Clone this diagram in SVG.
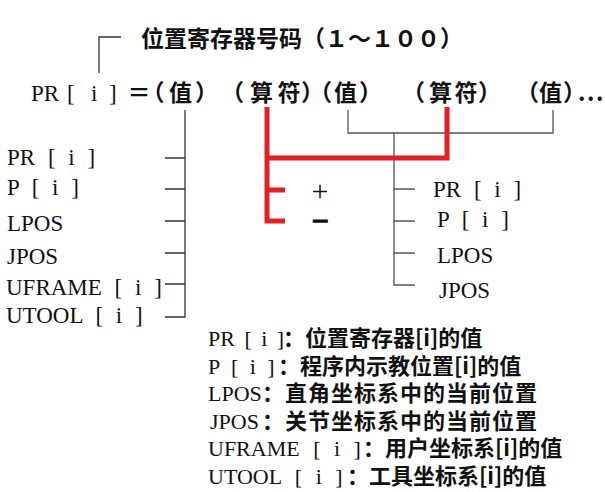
<svg xmlns="http://www.w3.org/2000/svg" width="605" height="492" viewBox="0 0 605 492">
<style>
text{fill:#111}
.l{font-family:"Liberation Serif","Noto Sans CJK SC",serif;font-size:23px;word-spacing:7px}
.m{font-family:"Liberation Serif","Noto Sans CJK SC",serif;font-size:23px}
.c{font-family:"Noto Sans CJK SC",sans-serif;font-weight:bold;font-size:23px}
.c2{font-family:"Noto Sans CJK SC",sans-serif;font-weight:bold;font-size:22px}
.t{font-family:"Noto Sans CJK SC",sans-serif;font-weight:bold;font-size:23px}
.lb{font-family:"Liberation Serif","Noto Sans CJK SC",serif;font-size:22px;word-spacing:8px}
.op{font-family:"Liberation Serif",serif;font-size:30px;text-anchor:middle}
.blk{fill:none;stroke:#333;stroke-width:1.3}
.gry{fill:none;stroke:#555;stroke-width:1.3}
.red{fill:none;stroke:#e31e24;stroke-width:5}
</style>
<g id="connectors">
<path class="blk" d="M99 73 V37 H121"/>
<path class="blk" d="M185 110 V317 H165 M165 158 H185 M165 189 H185 M165 221 H185 M165 253 H185 M165 284 H185"/>
<path class="gry" d="M348 110 V133 H553 V110 M394 133 V285 H415 M394 189 H415 M394 221 H415 M394 253 H415"/>
<path class="red" d="M267 107 V221 H285 M267 190 H285 M267 158 H447 V107"/>
</g>
<g id="title"><text class="t" x="141" y="47">位置寄存器号码（１～１００）</text></g>
<g id="formula">
<text class="m" y="101" x="31 43.8 56 67 75 91 97 109">PR [ i ]</text>
<text class="c" y="101" x="127.5 141.5 169 195 208 221 250 277.5 301 309 334 359 380 402 429 454.5 478 495 516 539 563 578 587 596">＝（值）　（算符）（值）　（算符）　（值）...</text>
</g>
<g id="left-values">
<text class="l" x="7" y="165">PR [ i ]</text>
<text class="l" x="7" y="195">P [ i ]</text>
<text class="l" x="7" y="231">LPOS</text>
<text class="l" x="7" y="264">JPOS</text>
<text class="l" x="6" y="295">UFRAME [ i ]</text>
<text class="l" x="6" y="323">UTOOL [ i ]</text>
</g>
<g id="operators">
<text class="op" x="320" y="201">+</text>
<text class="op" x="320" y="231" font-weight="bold" stroke="#111" stroke-width="1.2">−</text>
</g>
<g id="right-values">
<text class="l" x="433" y="197">PR [ i ]</text>
<text class="l" x="437" y="227">P [ i ]</text>
<text class="l" x="437" y="263">LPOS</text>
<text class="l" x="439" y="298">JPOS</text>
</g>
<g id="legend">
<text y="346"><tspan class="lb" x="208" style="word-spacing:4px">PR [ i ]</tspan><tspan class="c2" x="283">：位置寄存器[i]的值</tspan></text>
<text y="373.5"><tspan class="lb" x="208" style="word-spacing:6px">P [ i ]</tspan><tspan class="c2" x="278">：程序内示教位置[i]的值</tspan></text>
<text y="401"><tspan class="lb" x="208">LPOS</tspan><tspan class="c2" x="262" letter-spacing="1">：直角坐标系中的当前位置</tspan></text>
<text y="428.5"><tspan class="lb" x="210">JPOS</tspan><tspan class="c2" x="262" letter-spacing="1">：关节坐标系中的当前位置</tspan></text>
<text y="456"><tspan class="lb" x="208">UFRAME [ i ]</tspan><tspan class="c2" x="363">：用户坐标系[i]的值</tspan></text>
<text y="483.5"><tspan class="lb" x="208">UTOOL [ i ]</tspan><tspan class="c2" x="347">：工具坐标系[i]的值</tspan></text>
</g>
</svg>
